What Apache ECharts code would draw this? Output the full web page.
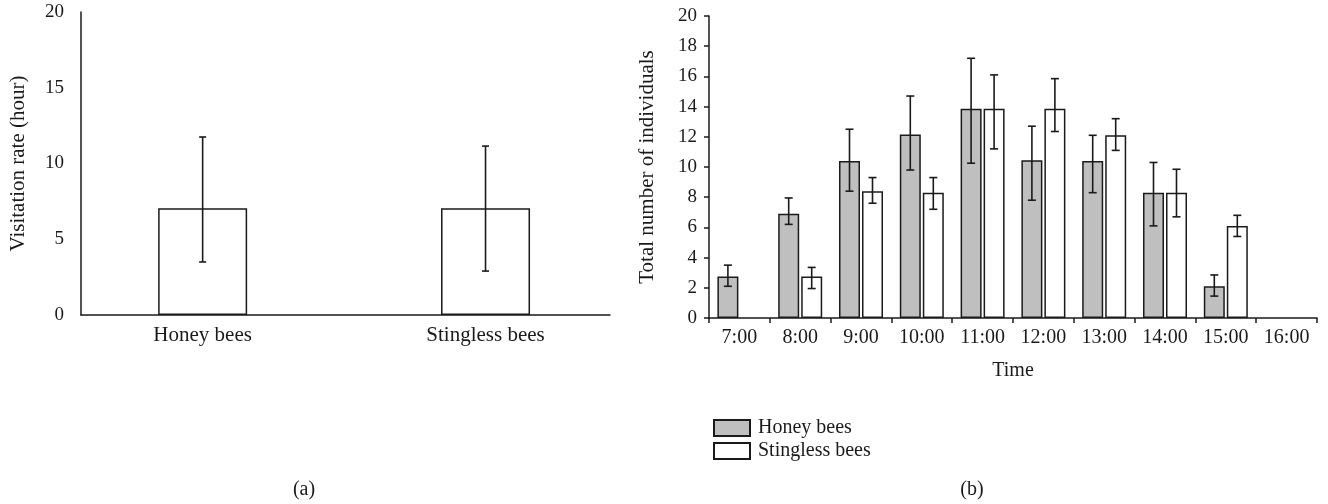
<!DOCTYPE html>
<html>
<head>
<meta charset="utf-8">
<script src="https://cdn.jsdelivr.net/npm/echarts@6/dist/echarts.min.js"></script>
<style>
html,body{margin:0;padding:0;background:#fff;}
#c{width:1328px;height:504px;}
</style>
</head>
<body>
<div id="c"></div>
<script>
// ---- Panel (a): visitation rate ----
const visitCats = ['Honey bees', 'Stingless bees'];
const visitMean = [7.05, 7.05];
const visitLow  = [3.5, 2.9];
const visitHigh = [11.75, 11.15];

// ---- Panel (b): individuals per hour ----
const times = ['7:00','8:00','9:00','10:00','11:00','12:00','13:00','14:00','15:00','16:00'];
const honeyMean = [2.75, 6.9, 10.4, 12.15, 13.85, 10.45, 10.4, 8.3, 2.1, null];
const honeyLow  = [2.1, 6.2, 8.4, 9.8, 10.25, 7.8, 8.3, 6.1, 1.45, null];
const honeyHigh = [3.5, 7.95, 12.5, 14.7, 17.2, 12.7, 12.1, 10.3, 2.85, null];
const stingMean = [null, 2.75, 8.4, 8.3, 13.85, 13.85, 12.1, 8.3, 6.1, null];
const stingLow  = [null, 1.95, 7.6, 7.2, 11.2, 12.35, 11.1, 6.7, 5.4, null];
const stingHigh = [null, 3.35, 9.3, 9.3, 16.1, 15.85, 13.2, 9.85, 6.8, null];

const FONT = 'Liberation Serif';
const INK = '#1a1a1a';
const BW = 21;        // bar width (panel b)
const GAP = 2;        // gap between paired bars
const CAP = 4;        // half cap width

function errRender(offset, capHalf) {
  return function (params, api) {
    const x = api.value(0), lo = api.value(1), hi = api.value(2);
    if (lo == null || hi == null || isNaN(lo) || isNaN(hi)) return;
    const pLo = api.coord([x, lo]);
    const pHi = api.coord([x, hi]);
    const cx = pLo[0] + offset;
    const st = { stroke: INK, lineWidth: 1.6 };
    return {
      type: 'group',
      children: [
        { type: 'line', shape: { x1: cx, y1: pLo[1], x2: cx, y2: pHi[1] }, style: st },
        { type: 'line', shape: { x1: cx - capHalf, y1: pHi[1], x2: cx + capHalf, y2: pHi[1] }, style: st },
        { type: 'line', shape: { x1: cx - capHalf, y1: pLo[1], x2: cx + capHalf, y2: pLo[1] }, style: st }
      ]
    };
  };
}

const chart = echarts.init(document.getElementById('c'), null, { renderer: 'canvas' });

const axisLineStyle = { color: INK, width: 1.5 };

chart.setOption({
  animation: false,
  backgroundColor: '#fff',
  textStyle: { fontFamily: FONT, color: INK },
  grid: [
    { left: 81, top: 12, width: 529, height: 303 },
    { left: 709, top: 16, width: 608, height: 302 }
  ],
  xAxis: [
    {
      gridIndex: 0, type: 'value', min: -0.43, max: 1.44,
      axisLine: { show: true, onZero: false, lineStyle: axisLineStyle },
      axisTick: { show: false },
      splitLine: { show: false },
      axisLabel: {
        customValues: [0, 1],
        formatter: v => visitCats[Math.round(v)],
        fontFamily: FONT, fontSize: 21, color: INK, margin: 10
      }
    },
    {
      gridIndex: 1, type: 'category', data: times,
      axisLine: { show: true, lineStyle: axisLineStyle },
      axisTick: { show: true, length: 5, lineStyle: axisLineStyle },
      axisLabel: { fontFamily: FONT, fontSize: 20, color: INK, margin: 10, interval: 0 },
      name: 'Time', nameLocation: 'middle', nameGap: 43,
      nameTextStyle: { fontFamily: FONT, fontSize: 20, color: INK }
    }
  ],
  yAxis: [
    {
      gridIndex: 0, type: 'value', min: 0, max: 20, interval: 5,
      axisLine: { show: true, onZero: false, lineStyle: axisLineStyle },
      axisTick: { show: false },
      splitLine: { show: false },
      axisLabel: { fontFamily: FONT, fontSize: 19, color: INK, margin: 17 },
      name: 'Visitation rate (hour)', nameLocation: 'middle', nameGap: 52,
      nameTextStyle: { fontFamily: FONT, fontSize: 21, color: INK }
    },
    {
      gridIndex: 1, type: 'value', min: 0, max: 20, interval: 2,
      axisLine: { show: true, onZero: false, lineStyle: axisLineStyle },
      axisTick: { show: true, inside: false, length: 5, lineStyle: axisLineStyle },
      splitLine: { show: false },
      axisLabel: { fontFamily: FONT, fontSize: 19, color: INK, margin: 12 },
      name: 'Total number of individuals', nameLocation: 'middle', nameGap: 51,
      nameTextStyle: { fontFamily: FONT, fontSize: 21, color: INK }
    }
  ],
  legend: {
    orient: 'vertical', left: 708, top: 413,
    icon: 'rect',
    itemWidth: 36, itemHeight: 16, itemGap: 3,
    data: ['Honey bees', 'Stingless bees'],
    textStyle: { fontFamily: FONT, fontSize: 20, color: INK, padding: [0, 0, 0, 3] }
  },
  graphic: [
    { type: 'text', x: 304, y: 490, style: { text: '(a)', font: '20px "Liberation Serif"', fill: INK, align: 'center', verticalAlign: 'middle' } },
    { type: 'text', x: 972, y: 490, style: { text: '(b)', font: '20px "Liberation Serif"', fill: INK, align: 'center', verticalAlign: 'middle' } }
  ],
  series: [
    {
      name: 'Visitation rate', type: 'bar', xAxisIndex: 0, yAxisIndex: 0,
      barWidth: 89,
      data: visitMean.map((v, i) => [i, v]),
      itemStyle: { color: '#fff', borderColor: INK, borderWidth: 1.5 }
    },
    {
      type: 'custom', xAxisIndex: 0, yAxisIndex: 0,
      renderItem: errRender(0, 3.5),
      data: visitLow.map((v, i) => [i, v, visitHigh[i]]),
      z: 5
    },
    {
      name: 'Honey bees', type: 'bar', xAxisIndex: 1, yAxisIndex: 1,
      barWidth: BW, barGap: (GAP / BW * 100) + '%',
      data: honeyMean,
      itemStyle: { color: '#bfbfbf', borderColor: INK, borderWidth: 1.5 }
    },
    {
      name: 'Stingless bees', type: 'bar', xAxisIndex: 1, yAxisIndex: 1,
      barWidth: BW, barGap: (GAP / BW * 100) + '%',
      data: stingMean,
      itemStyle: { color: '#fff', borderColor: INK, borderWidth: 1.5 }
    },
    {
      type: 'custom', xAxisIndex: 1, yAxisIndex: 1,
      renderItem: errRender(-(BW + GAP) / 2, CAP),
      data: honeyLow.map((v, i) => [i, v, honeyHigh[i]]),
      z: 5
    },
    {
      type: 'custom', xAxisIndex: 1, yAxisIndex: 1,
      renderItem: errRender((BW + GAP) / 2, CAP),
      data: stingLow.map((v, i) => [i, v, stingHigh[i]]),
      z: 5
    }
  ]
});
</script>
</body>
</html>
